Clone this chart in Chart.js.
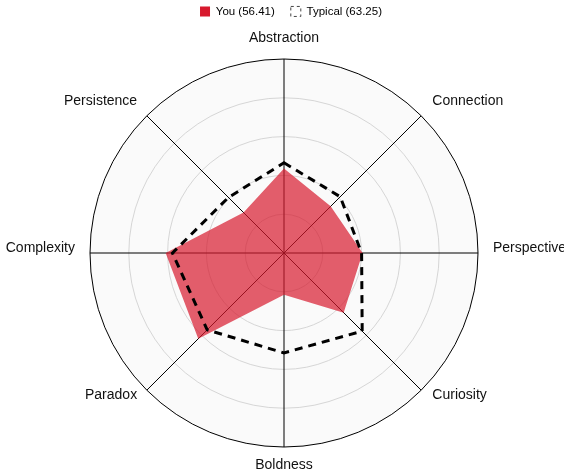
<!DOCTYPE html>
<html>
<head>
<meta charset="utf-8">
<script src="https://cdn.jsdelivr.net/npm/chart.js@4"></script>
<style>
  html, body { margin: 0; padding: 0; background: #fff; overflow: hidden; }
  #wrap { position: relative; width: 572px; height: 477px; }
</style>
</head>
<body>
<div id="wrap"><canvas id="c"></canvas></div>
<script>
const categories = ["Abstraction", "Connection", "Perspective", "Curiosity", "Boldness", "Paradox", "Complexity", "Persistence"];
const youValues = [43.5, 34, 40.5, 43.5, 21.5, 62.5, 61, 29.5];
const typicalValues = [46.5, 41, 40, 57, 51.5, 56, 57.5, 40.5];
const seriesNames = ["You (56.41)", "Typical (63.25)"];

const youColor = "rgb(215, 25, 45)";
const youFill = "rgba(215, 25, 45, 0.7)";

// nudge the legend block to the position seen in the reference
const legendShift = {
  id: "legendShift",
  afterLayout(chart) {
    const lg = chart.legend;
    if (!lg) return;
    lg.left += 5; lg.right += 5;
    lg.top -= 2; lg.bottom -= 2;
  }
};

// small per-direction nudges of the point labels (layout only)
function nudgePointLabels(scale) {
  const items = scale._pointLabelItems;
  if (!items) return;
  items.forEach((it, i) => {
    const a = scale.getIndexAngle(i);
    const s = Math.sin(a), c = Math.cos(a);
    let dx = 0, dy = 0;
    if (s > 0.1) dx = 2;
    else if (s < -0.9) dx = -2;
    else if (s < -0.1) dx = -0.5;
    if (c > 0.9) dy = 1;            // top
    else if (c > 0.1) dy = 3;       // upper diagonals
    else if (c > -0.1) dy = -5;     // sides
    else if (c > -0.9) dy = -12.5;  // lower diagonals
    else dy = -3;                   // bottom
    it.x += dx; it.left += dx; it.right += dx;
    it.y += dy; it.top += dy; it.bottom += dy;
  });
}

new Chart(document.getElementById("c"), {
  type: "radar",
  data: {
    labels: categories,
    datasets: [
      {
        label: seriesNames[0],
        data: youValues,
        backgroundColor: youFill,
        borderWidth: 0,
        pointRadius: 0,
        fill: true,
        order: 2
      },
      {
        label: seriesNames[1],
        data: typicalValues,
        backgroundColor: "rgba(0,0,0,0)",
        borderColor: "#000",
        borderWidth: 3,
        borderDash: [8, 6],
        pointRadius: 0,
        fill: false,
        order: 1
      }
    ]
  },
  options: {
    responsive: true,
    maintainAspectRatio: false,
    animation: false,
    layout: { padding: { top: -8.3, bottom: 0, left: 0, right: 0 } },
    plugins: {
      tooltip: { enabled: false },
      legend: {
        position: "top",
        labels: {
          font: { family: "Arial, 'Liberation Sans', sans-serif", size: 11.5 },
          color: "#222",
          boxWidth: 10,
          boxHeight: 10,
          padding: 16,
          generateLabels: function (chart) {
            return [
              { text: seriesNames[0], fillStyle: youColor, strokeStyle: youColor, lineWidth: 0, datasetIndex: 0 },
              { text: seriesNames[1], fillStyle: "#fff", strokeStyle: "#444", lineWidth: 1, lineDash: [3, 3], datasetIndex: 1 }
            ];
          }
        }
      }
    },
    scales: {
      r: {
        min: 0,
        max: 100,
        backgroundColor: "#fafafa",
        ticks: { display: false, stepSize: 20 },
        grid: {
          circular: true,
          color: (ctx) => (ctx.tick && ctx.tick.value === 100) ? "#000" : "#d6d6d6",
          lineWidth: 1
        },
        angleLines: { color: "#000", lineWidth: 1 },
        pointLabels: {
          font: { family: "Arial, 'Liberation Sans', sans-serif", size: 14 },
          color: "#111",
          padding: 13
        },
        afterFit: nudgePointLabels
      }
    }
  },
  plugins: [legendShift]
});
</script>
</body>
</html>
